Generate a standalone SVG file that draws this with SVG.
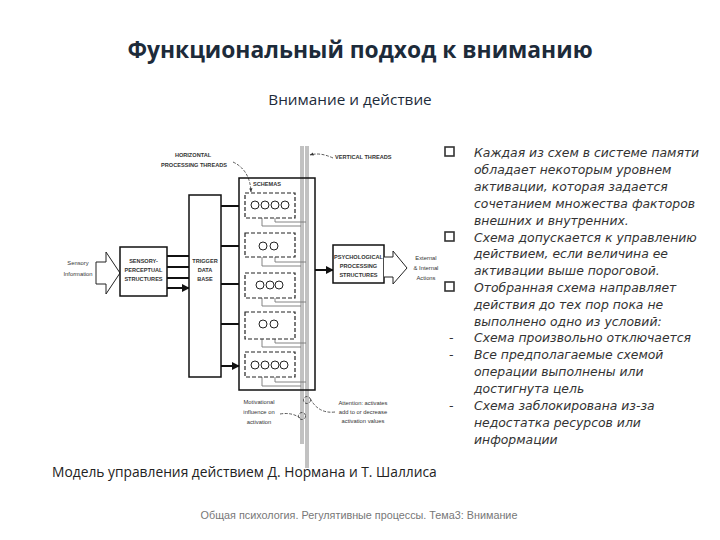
<svg xmlns="http://www.w3.org/2000/svg" width="720" height="540" viewBox="0 0 720 540">
<style>
.title{font-family:"Open Sans","Liberation Sans",sans-serif;font-weight:bold;font-size:22.8px;fill:#1d2b3a}
.sub{font-family:"Open Sans","Liberation Sans",sans-serif;font-size:15.3px;fill:#1d2b3a}
.body{font-family:"DejaVu Sans","Liberation Sans",sans-serif;font-style:italic;font-size:12.4px;fill:#333}
.cap{font-family:"Open Sans","Liberation Sans",sans-serif;font-size:13.8px;fill:#222}
.foot{font-family:"Liberation Sans",sans-serif;font-size:10.8px;fill:#777}
.lbl{font-family:"Liberation Sans",sans-serif;font-weight:bold;font-size:5.6px;fill:#333}
.lbn{font-family:"Liberation Sans",sans-serif;font-size:5.8px;fill:#333}
.box{fill:#fff;stroke:#111;stroke-width:1.5}
.dbox{fill:none;stroke:#222;stroke-width:1.2;stroke-dasharray:4 2}
.circ{fill:#fff;stroke:#222;stroke-width:1}
.arr{stroke:#111;stroke-width:2;fill:none;marker-end:url(#ah)}
.thr{stroke:#777;stroke-width:0.9;fill:none}
.lead{stroke:#333;stroke-width:0.8;fill:none;stroke-dasharray:3 1.5}
.bul{fill:#fff;stroke:#333;stroke-width:1.6}
</style>
<defs>
<marker id="ah" viewBox="0 0 10 10" refX="9" refY="5" markerWidth="4" markerHeight="4" orient="auto"><path d="M0,0 L10,5 L0,10 z" fill="#111"/></marker>
<marker id="sa" viewBox="0 0 10 10" refX="9" refY="5" markerWidth="5" markerHeight="5" orient="auto"><path d="M0,1 L10,5 L0,9 z" fill="#333"/></marker>
</defs>
<rect width="720" height="540" fill="#fff"/>
<text class="title" x="360" y="58" text-anchor="middle">Функциональный подход к вниманию</text>
<text class="sub" x="350" y="105" text-anchor="middle">Внимание и действие</text>

<g id="connectors">
<path d="M167,256 H189 M167,267 H189 M167,278 H189 M167,288 H189" class="arr"/>
<path d="M221,206 H239 M221,246 H239 M221,284 H239 M221,324 H239 M221,366 H239" class="arr"/>
<path d="M315,270 H333" class="arr" stroke-width="3"/>
<path d="M233,162 Q250,170 251,192" class="lead" marker-end="url(#sa)"/>
<path d="M333,158 Q320,152 310,155" class="lead" marker-end="url(#sa)"/>
<path d="M280,414 Q292,412 300,418" class="lead"/>
<path d="M335,412 Q318,414 310,398" class="lead"/>
<g class="thr">
<path d="M301,146 V444 M303,146 V444 M306,146 V468 M308,146 V468"/>
<path d="M262,218 V226 H301 M275,218 V222 H306"/>
<path d="M262,257 V266 H301 M275,257 V262 H306"/>
<path d="M262,298 V306 H301 M275,298 V302 H306"/>
<path d="M262,339 V347 H301 M275,339 V343 H306"/>
<path d="M262,377 V386 H301 M275,377 V382 H306"/>
</g>
<circle cx="302" cy="416" r="3.5" class="lead"/>
<circle cx="307" cy="400" r="3.5" class="lead"/>
</g>

<g id="sensory">
<path d="M96,262 H106 V252 L120,273 L106,294 V284 H96 Z" fill="#fff" stroke="#222" stroke-width="1"/>
<text class="lbn" x="78" y="265" text-anchor="middle">Sensory</text>
<text class="lbn" x="78" y="276" text-anchor="middle">Information</text>
</g>
<g id="perceptual">
<rect class="box" x="120" y="247" width="47" height="49"/>
<text class="lbl" x="143.5" y="263" text-anchor="middle">SENSORY-</text>
<text class="lbl" x="143.5" y="272" text-anchor="middle">PERCEPTUAL</text>
<text class="lbl" x="143.5" y="281" text-anchor="middle">STRUCTURES</text>
</g>
<g id="trigger">
<rect class="box" x="189" y="195" width="32" height="182"/>
<text class="lbl" x="205" y="263" text-anchor="middle">TRIGGER</text>
<text class="lbl" x="205" y="272" text-anchor="middle">DATA</text>
<text class="lbl" x="205" y="281" text-anchor="middle">BASE</text>
</g>
<g id="hthreads">
<text class="lbl" x="193" y="157" text-anchor="middle">HORIZONTAL</text>
<text class="lbl" x="194" y="167" text-anchor="middle">PROCESSING THREADS</text>
</g>
<g id="vthreads">
<text class="lbl" x="335" y="159">VERTICAL THREADS</text>
</g>
<g id="schemas">
<rect x="239" y="178" width="76" height="212" fill="none" stroke="#111" stroke-width="1.5"/>
<text class="lbl" x="267" y="186" text-anchor="middle">SCHEMAS</text>
<rect class="dbox" x="245" y="193" width="50" height="25"/>
<circle class="circ" cx="255" cy="205" r="4"/><circle class="circ" cx="265" cy="205" r="4"/><circle class="circ" cx="275" cy="205" r="4"/><circle class="circ" cx="285" cy="205" r="4"/>
<rect class="dbox" x="245" y="233" width="50" height="24"/>
<circle class="circ" cx="263" cy="246" r="4"/><circle class="circ" cx="274" cy="246" r="4"/>
<rect class="dbox" x="245" y="273" width="50" height="25"/>
<circle class="circ" cx="260" cy="285" r="4"/><circle class="circ" cx="270" cy="285" r="4"/><circle class="circ" cx="279" cy="285" r="4"/>
<rect class="dbox" x="245" y="312" width="50" height="27"/>
<circle class="circ" cx="263" cy="324" r="4"/><circle class="circ" cx="274" cy="324" r="4"/>
<rect class="dbox" x="245" y="352" width="50" height="25"/>
<circle class="circ" cx="255" cy="365" r="4"/><circle class="circ" cx="265" cy="365" r="4"/><circle class="circ" cx="275" cy="365" r="4"/><circle class="circ" cx="284" cy="365" r="4"/>
</g>
<g id="psych">
<rect class="box" x="333" y="245" width="51" height="38"/>
<text class="lbl" x="358.5" y="259" text-anchor="middle">PSYCHOLOGICAL</text>
<text class="lbl" x="358.5" y="268" text-anchor="middle">PROCESSING</text>
<text class="lbl" x="358.5" y="277" text-anchor="middle">STRUCTURES</text>
</g>
<g id="actions">
<path d="M384,257 H393 V251 L407,268 L393,284 V277 H384" fill="#fff" stroke="#222" stroke-width="1"/>
<text class="lbn" x="426" y="260" text-anchor="middle">External</text>
<text class="lbn" x="426" y="270" text-anchor="middle">&amp; Internal</text>
<text class="lbn" x="426" y="280" text-anchor="middle">Actions</text>
</g>
<g id="motivational">
<text class="lbn" x="259" y="404" text-anchor="middle">Motivational</text>
<text class="lbn" x="259" y="414" text-anchor="middle">influence on</text>
<text class="lbn" x="259" y="424" text-anchor="middle">activation</text>
</g>
<g id="attention">
<text class="lbn" x="363" y="405" text-anchor="middle">Attention: activates</text>
<text class="lbn" x="363" y="414" text-anchor="middle">add to or decrease</text>
<text class="lbn" x="363" y="423" text-anchor="middle">activation values</text>
</g>

<g id="notes">
<rect class="bul" x="445" y="147" width="9" height="9"/>
<rect class="bul" x="445" y="232" width="9" height="9"/>
<rect class="bul" x="445" y="282" width="9" height="9"/>
<text class="body" x="474" y="157">Каждая из схем в системе памяти</text>
<text class="body" x="474" y="174">обладает некоторым уровнем</text>
<text class="body" x="474" y="191">активации, которая задается</text>
<text class="body" x="474" y="208">сочетанием множества факторов</text>
<text class="body" x="474" y="225">внешних и внутренних.</text>
<text class="body" x="474" y="242">Схема допускается к управлению</text>
<text class="body" x="474" y="258">действием, если величина ее</text>
<text class="body" x="474" y="275">активации выше пороговой.</text>
<text class="body" x="474" y="292">Отобранная схема направляет</text>
<text class="body" x="474" y="309">действия до тех пор пока не</text>
<text class="body" x="474" y="326">выполнено одно из условий:</text>
<text class="body" x="449" y="342" font-style="normal">-</text>
<text class="body" x="474" y="342">Схема произвольно отключается</text>
<text class="body" x="449" y="359" font-style="normal">-</text>
<text class="body" x="474" y="359">Все предполагаемые схемой</text>
<text class="body" x="474" y="376">операции выполнены или</text>
<text class="body" x="474" y="393">достигнута цель</text>
<text class="body" x="449" y="410" font-style="normal">-</text>
<text class="body" x="474" y="410">Схема заблокирована из-за</text>
<text class="body" x="474" y="427">недостатка ресурсов или</text>
<text class="body" x="474" y="444">информации</text>
</g>

<text class="cap" x="52" y="477">Модель управления действием Д. Нормана и Т. Шаллиса</text>
<text class="foot" x="359" y="519" text-anchor="middle">Общая психология. Регулятивные процессы. Тема3: Внимание</text>
</svg>
